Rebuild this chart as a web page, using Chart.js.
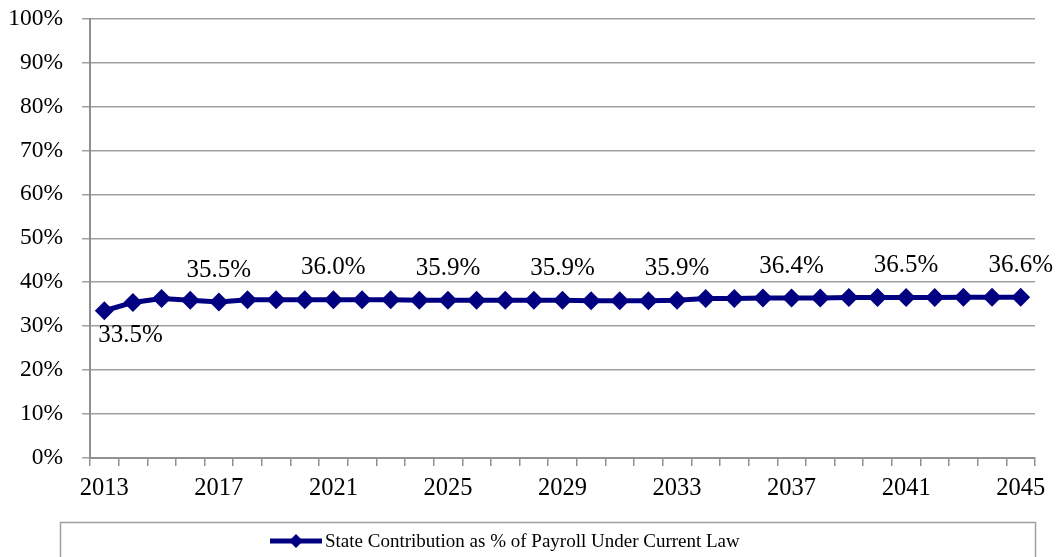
<!DOCTYPE html>
<html>
<head>
<meta charset="utf-8">
<script src="https://cdn.jsdelivr.net/npm/chart.js@4/dist/chart.umd.min.js"></script>
<style>
  html, body { margin: 0; padding: 0; background: #fff; }
  #wrap { width: 1056px; height: 557px; position: relative; }
</style>
</head>
<body>
<div id="wrap"><canvas id="c" width="1056" height="557"></canvas></div>
<script>
const years = [2013,2014,2015,2016,2017,2018,2019,2020,2021,2022,2023,2024,2025,2026,2027,2028,2029,2030,2031,2032,2033,2034,2035,2036,2037,2038,2039,2040,2041,2042,2043,2044,2045];
const stateContribution = [33.5,35.4,36.3,35.9,35.5,36.0,36.0,36.0,36.0,36.0,36.0,35.9,35.9,35.9,35.9,35.9,35.9,35.8,35.8,35.8,35.9,36.3,36.3,36.4,36.4,36.4,36.5,36.5,36.5,36.5,36.6,36.6,36.6];
const labelledIndices = [0,4,8,12,16,20,24,28,32];
const seriesName = 'State Contribution as % of Payroll Under Current Law';

const SERIF = '"Liberation Serif", "Times New Roman", serif';
const NAVY = '#000080';

const dataLabels = {
  id: 'dataLabels',
  afterDatasetsDraw(chart) {
    const ctx = chart.ctx;
    const meta = chart.getDatasetMeta(0);
    ctx.save();
    ctx.font = '25px ' + SERIF;
    ctx.fillStyle = '#000';
    ctx.textBaseline = 'middle';
    labelledIndices.forEach((i, k) => {
      const p = meta.data[i];
      const txt = stateContribution[i].toFixed(1) + '%';
      if (k === 0) {
        ctx.textAlign = 'left';
        ctx.fillText(txt, p.x - 6, p.y + 25);
      } else {
        ctx.textAlign = 'center';
        ctx.fillText(txt, p.x, p.y - 32);
      }
    });
    ctx.restore();
  }
};

const legendBox = {
  id: 'legendBox',
  afterDraw(chart) {
    const ctx = chart.ctx;
    ctx.save();
    ctx.strokeStyle = '#a0a0a0';
    ctx.lineWidth = 1.5;
    ctx.strokeRect(60.5, 522.5, 975, 45);
    const y = 541;
    ctx.strokeStyle = NAVY;
    ctx.lineWidth = 5;
    ctx.beginPath();
    ctx.moveTo(270, y);
    ctx.lineTo(322, y);
    ctx.stroke();
    ctx.fillStyle = NAVY;
    ctx.beginPath();
    ctx.moveTo(296 - 7, y);
    ctx.lineTo(296, y - 7);
    ctx.lineTo(296 + 7, y);
    ctx.lineTo(296, y + 7);
    ctx.closePath();
    ctx.fill();
    ctx.fillStyle = '#000';
    ctx.font = '19px ' + SERIF;
    ctx.textAlign = 'left';
    ctx.textBaseline = 'middle';
    ctx.fillText(seriesName, 325, y + 1);
    ctx.restore();
  }
};

new Chart(document.getElementById('c'), {
  type: 'line',
  data: {
    labels: years,
    datasets: [{
      label: seriesName,
      data: stateContribution,
      borderColor: NAVY,
      backgroundColor: NAVY,
      borderWidth: 5,
      pointStyle: 'rectRot',
      pointRadius: 9.5,
      pointHoverRadius: 9.5,
      pointBackgroundColor: NAVY,
      pointBorderWidth: 0,
      tension: 0,
      fill: false
    }]
  },
  options: {
    responsive: false,
    animation: false,
    events: [],
    layout: { padding: { top: 18.5, right: 21, left: 0, bottom: 59 } },
    plugins: {
      legend: { display: false },
      tooltip: { enabled: false }
    },
    scales: {
      x: {
        type: 'category',
        offset: true,
        afterFit(s) { s.height = 40; s.paddingLeft = 0; s.paddingRight = 0; },
        grid: {
          offset: true,
          drawOnChartArea: false,
          drawTicks: true,
          tickLength: 8,
          color: '#909090',
          lineWidth: 1.5
        },
        border: { display: true, color: '#909090', width: 2 },
        ticks: {
          autoSkip: false,
          maxRotation: 0,
          padding: 8,
          color: '#000',
          font: { family: SERIF, size: 24.5 },
          callback(v, i) { return i % 4 === 0 ? String(years[i]) : ''; }
        }
      },
      y: {
        min: 0,
        max: 100,
        afterFit(s) { s.width = 90; s.paddingTop = 0; s.paddingBottom = 0; },
        grid: {
          color: '#a0a0a0',
          lineWidth: 1.5,
          tickLength: 8
        },
        border: { display: true, color: '#909090', width: 2 },
        ticks: {
          stepSize: 10,
          padding: 19,
          color: '#000',
          font: { family: SERIF, size: 23.5 },
          callback(v) { return v + '%'; }
        }
      }
    }
  },
  plugins: [dataLabels, legendBox]
});
</script>
</body>
</html>
